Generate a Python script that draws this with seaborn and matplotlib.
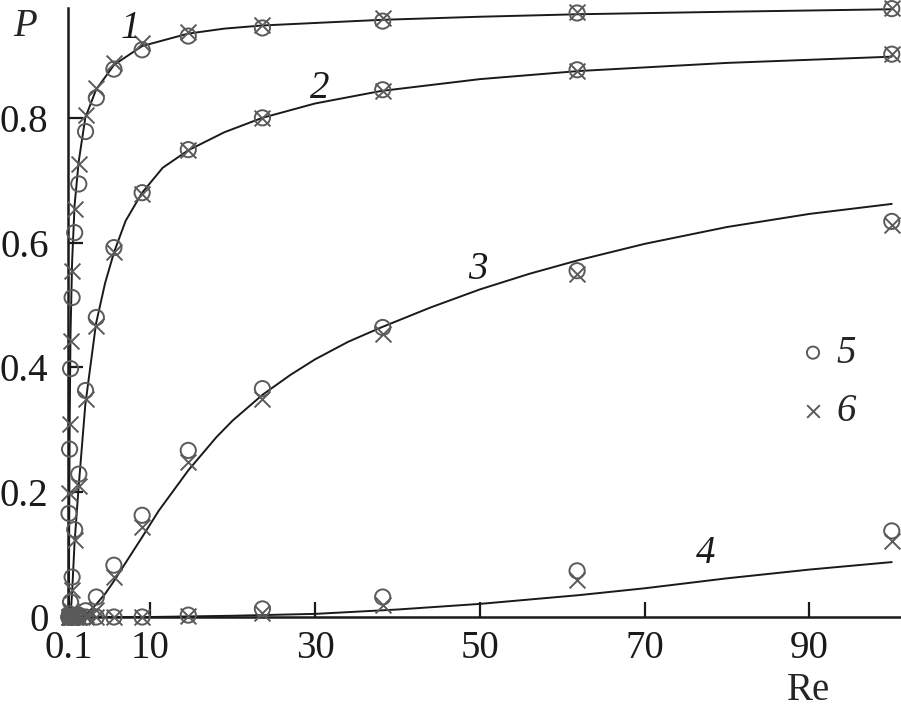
import numpy as np
import pandas as pd
import matplotlib
matplotlib.use("Agg")
import matplotlib.pyplot as plt
import seaborn as sns

sns.set_style("ticks")
plt.rcParams["font.family"] = ["Liberation Serif", "DejaVu Serif"]

# measured points (Re values are the same for every curve)
re_pts = [0.12, 0.19, 0.31, 0.5, 0.81, 1.31, 2.13, 3.44, 5.57, 9.0, 14.6, 23.6, 38.2, 61.8, 100]

p1_circ = [0.166, 0.269, 0.398, 0.512, 0.616, 0.694, 0.778, 0.832, 0.878, 0.909, 0.931, 0.944, 0.955, 0.968, 0.975]
p1_x    = [0.198, 0.310, 0.443, 0.555, 0.654, 0.726, 0.805, 0.848, 0.888, 0.920, 0.937, 0.948, 0.960, 0.970, 0.976]
p2_circ = [0.0, 0.005, 0.024, 0.064, 0.140, 0.229, 0.363, 0.480, 0.592, 0.680, 0.749, 0.800, 0.845, 0.877, 0.902]
p2_x    = [0.0, 0.002, 0.010, 0.043, 0.123, 0.210, 0.350, 0.467, 0.585, 0.678, 0.748, 0.800, 0.843, 0.875, 0.903]
p3_circ = [0.0, 0.0, 0.0, 0.0, 0.0, 0.003, 0.010, 0.032, 0.083, 0.163, 0.267, 0.366, 0.464, 0.555, 0.634]
p3_x    = [0.0, 0.0, 0.0, 0.0, 0.0, 0.0, 0.003, 0.012, 0.064, 0.144, 0.248, 0.350, 0.454, 0.549, 0.629]
p4_circ = [0.0, 0.0, 0.0, 0.0, 0.0, 0.0, 0.0, 0.0, 0.0, 0.0, 0.003, 0.013, 0.032, 0.074, 0.138]
p4_x    = [0.0, 0.0, 0.0, 0.0, 0.0, 0.0, 0.0, 0.0, 0.0, 0.0, 0.001, 0.006, 0.019, 0.060, 0.122]

# fitted curves
line1_re = [0.1, 0.15, 0.2, 0.3, 0.5, 0.8, 1.3, 2.1, 3.4, 5.6, 9, 14.6, 19, 23.6, 30, 38, 50, 62, 80, 100]
line1_p  = [0.0, 0.15, 0.30, 0.45, 0.57, 0.66, 0.73, 0.80, 0.845, 0.885, 0.915, 0.935, 0.943, 0.948,
            0.952, 0.957, 0.962, 0.966, 0.970, 0.974]
line2_re = [0.1, 0.3, 0.5, 0.8, 1.3, 2.1, 3.4, 4.5, 5.6, 7, 9, 11.5, 14.6, 19, 23.6, 30, 38, 50, 62, 80, 100]
line2_p  = [0.0, 0.0, 0.04, 0.12, 0.21, 0.34, 0.47, 0.535, 0.585, 0.635, 0.68, 0.72, 0.748, 0.777,
            0.80, 0.823, 0.843, 0.862, 0.875, 0.888, 0.898]
line3_re = [0.1, 1.7, 2.5, 3.4, 4.5, 5.6, 7, 9, 11, 14.6, 18, 20, 23.6, 27, 30, 34, 38, 44, 50, 56,
            62, 70, 80, 90, 100]
line3_p  = [0.0, 0.0, 0.008, 0.02, 0.037, 0.058, 0.087, 0.128, 0.17, 0.235, 0.288, 0.315, 0.356, 0.388,
            0.413, 0.441, 0.464, 0.496, 0.525, 0.550, 0.572, 0.598, 0.625, 0.646, 0.662]
line4_re = [0.1, 10, 20, 30, 40, 50, 62, 70, 80, 90, 100]
line4_p  = [0.0, 0.0, 0.002, 0.005, 0.012, 0.021, 0.035, 0.046, 0.062, 0.076, 0.088]

curve_labels = ["1", "2", "3", "4"]

fig = plt.figure(figsize=(9.01, 7.24), dpi=100)
ax = fig.add_axes([68 / 901, 107 / 724, 832 / 901, 609 / 724])

# lines
for r, p in [(line1_re, line1_p), (line2_re, line2_p), (line3_re, line3_p), (line4_re, line4_p)]:
    sns.lineplot(x=r, y=p, ax=ax, color="#1a1a1a", lw=1.4, estimator=None, sort=False)

# markers
mk_col = "#5a5a5a"
circ_all = np.concatenate([p1_circ, p2_circ, p3_circ, p4_circ])
x_all = np.concatenate([p1_x, p2_x, p3_x, p4_x])
re_all = np.tile(re_pts, 4)
sns.scatterplot(x=re_all, y=circ_all, ax=ax, marker="o", s=120, facecolor="none",
                edgecolor=mk_col, linewidth=1.4, clip_on=False, zorder=3, label="5")
sns.scatterplot(x=re_all, y=x_all, ax=ax, marker="x", s=130, color=mk_col,
                linewidth=1.4, clip_on=False, zorder=3, label="6")

ax.set_xlim(0, 101)
ax.set_ylim(0, 0.976)
ax.set_xticks([0.1, 10, 30, 50, 70, 90])
ax.set_xticklabels(["0.1", "10", "30", "50", "70", "90"])
ax.set_yticks([0, 0.2, 0.4, 0.6, 0.8])
ax.set_yticklabels(["0", "0.2", "0.4", "0.6", "0.8"])
ax.tick_params(direction="in", length=11, width=1.6, labelsize=28, colors="#1a1a1a")
ax.tick_params(axis="y", pad=14)
ax.tick_params(axis="x", pad=9)
sns.despine(ax=ax)
for s in ["left", "bottom"]:
    ax.spines[s].set_linewidth(1.8)
    ax.spines[s].set_color("#1a1a1a")
ax.set_xlabel("")
ax.set_ylabel("")

# curve numbers
lab_pos = [(0.0745, 0.967), (0.303, 0.867), (0.493, 0.571), (0.766, 0.105)]
for t, (px, py) in zip(curve_labels, lab_pos):
    ax.text(px, py, t, transform=ax.transAxes, fontsize=28, style="italic",
            ha="center", va="center", color="#1a1a1a")

leg = ax.legend(loc="center left", bbox_to_anchor=(0.83, 0.385), frameon=False,
                prop={"size": 28, "style": "italic"}, handletextpad=0.1,
                labelspacing=0.55, markerscale=0.8, handlelength=1.0)

fig.text(25 / 901, 1 - 27 / 724, "P", fontsize=28, style="italic", ha="center", va="center")
fig.text(808 / 901, 1 - 690 / 724, "Re", fontsize=28, ha="center", va="center")

fig.savefig("out.png", dpi=100)
